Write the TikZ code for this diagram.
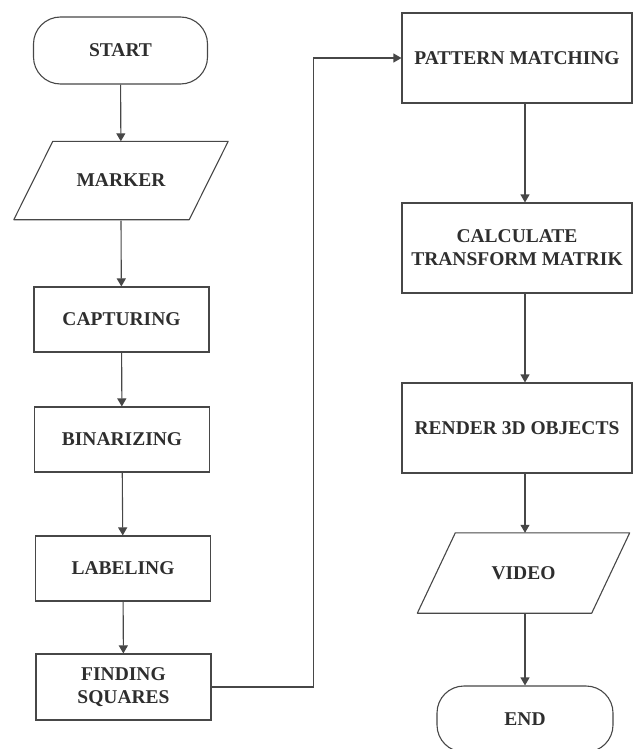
\documentclass[tikz,border=0pt]{standalone}
\usepackage{fontspec}
\setmainfont{Liberation Serif}
\usetikzlibrary{arrows.meta,calc}
\begin{document}
\begin{tikzpicture}[x=1pt,y=-1pt,
  every node/.style={font=\fontsize{19.5}{21}\selectfont\bfseries, text=black!82, align=center, inner sep=0pt},
  procbox/.style={draw=black!72, line width=1.1pt, minimum width=#1, minimum height=65},
  procbox/.default=175,
  termbox/.style={draw=black!72, line width=1.1pt, rounded corners=27, minimum width=174, minimum height=67},
  iobox/.style={draw=none, minimum width=175, minimum height=78},
  ioline/.style={draw=black!72, line width=1.1pt, line join=round},
  flow/.style={draw=black!72, line width=1.1pt, -{Triangle[width=9pt,length=8pt]}}
]
\useasboundingbox (0,0) rectangle (633,749);
% left column
\node[termbox] (start) at (120.5,50.5) {START};
\node[iobox] (marker) at (121,180.5) {MARKER};
\draw[ioline] ([xshift=19.5]marker.north west) -- ([xshift=19.5]marker.north east)
  -- ([xshift=-19.5]marker.south east) -- ([xshift=-19.5]marker.south west) -- cycle;
\node[procbox] (capt) at (121.5,319.5) {CAPTURING};
\node[procbox] (bin) at (122,439.5) {BINARIZING};
\node[procbox] (lab) at (123,568.5) {LABELING};
\node[procbox, minimum height=66] (find) at (123.5,687) {FINDING\\[2pt]SQUARES};
% right column
\node[procbox=230, minimum height=90] (pat) at (517,58) {PATTERN MATCHING};
\node[procbox=230, minimum height=90] (calc) at (517,248) {CALCULATE\\[2pt]TRANSFORM MATRIK};
\node[procbox=230, minimum height=90] (rend) at (517,428) {RENDER 3D OBJECTS};
\node[iobox, minimum width=174, minimum height=80] (video) at (523.5,573) {VIDEO};
\draw[ioline] ([xshift=19]video.north west) -- ([xshift=19]video.north east)
  -- ([xshift=-19]video.south east) -- ([xshift=-19]video.south west) -- cycle;
\node[termbox, minimum width=176, minimum height=66] (end) at (525,719) {END};
% connectors
\draw[flow] (start) -- (marker);
\draw[flow] ([yshift=-1]marker.south) -- (capt);
\draw[flow] (capt) -- (bin);
\draw[flow] (bin) -- (lab);
\draw[flow] (lab) -- (find);
\draw[flow] (find.east) -- ++(102,0) |- (pat.west);
\draw[flow] (pat.south -| end.center) -- (calc.north -| end.center);
\draw[flow] (calc.south -| end.center) -- (rend.north -| end.center);
\draw[flow] (rend.south -| end.center) -- (video.north -| end.center);
\draw[flow] (video.south -| end.center) -- (end.north);
\end{tikzpicture}
\end{document}
